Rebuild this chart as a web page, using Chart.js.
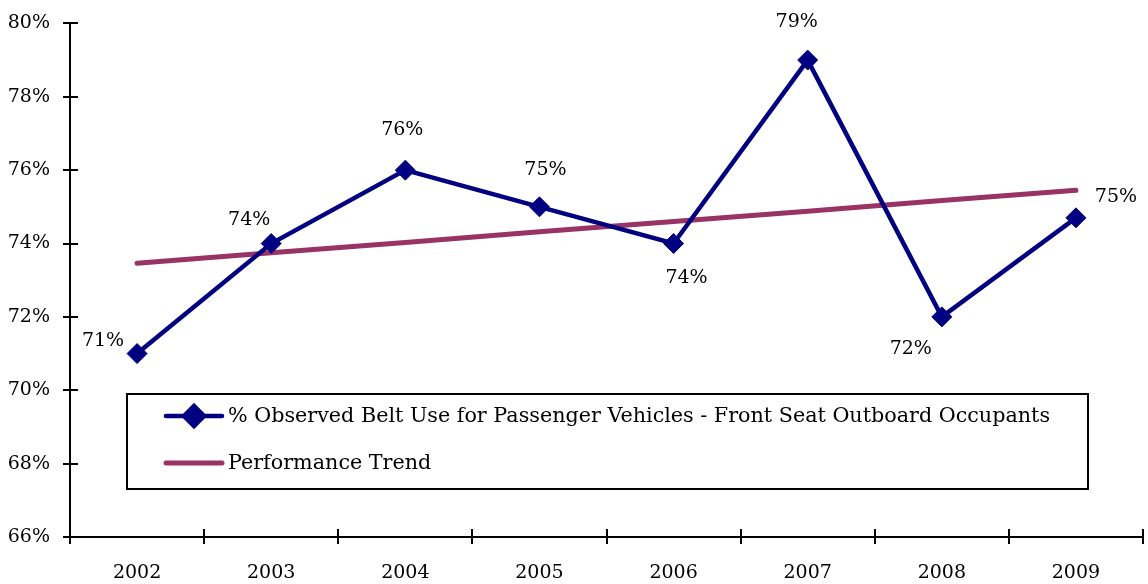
<!DOCTYPE html>
<html>
<head>
<meta charset="utf-8">
<script src="https://cdn.jsdelivr.net/npm/chart.js@4.4.0/dist/chart.umd.min.js"></script>
<style>
  html, body { margin: 0; padding: 0; background: #fff; }
  #wrap { width: 1148px; height: 584px; }
</style>
</head>
<body>
<div id="wrap"><canvas id="c" width="1148" height="584"></canvas></div>
<script>
const years = ['2002', '2003', '2004', '2005', '2006', '2007', '2008', '2009'];
const beltUse = [71, 74, 76, 75, 74, 79, 72, 74.7];
const beltLabels = ['71%', '74%', '76%', '75%', '74%', '79%', '72%', '75%'];
const trend = [73.46, 73.75, 74.03, 74.32, 74.6, 74.88, 75.17, 75.45];
const yTicks = [66, 68, 70, 72, 74, 76, 78, 80];

const FONT = '"DejaVu Serif", "Liberation Serif", serif';
const FSIZE = 19;
const LEGEND_FSIZE = 20.7;
const NAVY = '#000080', PLUM = '#993366';

// where each value label sits relative to its point (dx, dy in px)
const labelOffsets = [[-34, -13], [-22, -23], [-3, -40], [6, -37], [13, 35], [-11, -38], [-31, 32], [40, -21]];

// axes with ticks crossing the axis line, like the original
const axesPlugin = {
  id: 'axes',
  afterDraw(chart) {
    const ctx = chart.ctx, a = chart.chartArea;
    const xs = chart.scales.x, ys = chart.scales.y;
    ctx.save();
    ctx.strokeStyle = '#000';
    ctx.lineWidth = 2;
    ctx.beginPath();
    ctx.moveTo(a.left, a.top); ctx.lineTo(a.left, a.bottom);
    ctx.moveTo(a.left, a.bottom); ctx.lineTo(a.right, a.bottom);
    yTicks.forEach(v => {
      const y = Math.round(ys.getPixelForValue(v));
      ctx.moveTo(a.left - 7, y); ctx.lineTo(a.left + 8, y);
    });
    const half = (xs.getPixelForValue(1) - xs.getPixelForValue(0)) / 2;
    for (let i = 0; i <= years.length; i++) {
      const x = Math.round(xs.getPixelForValue(i) - half);
      ctx.moveTo(x, a.bottom - 8); ctx.lineTo(x, a.bottom + 7);
    }
    ctx.stroke();
    ctx.restore();
  }
};

const valueLabels = {
  id: 'valueLabels',
  afterDatasetsDraw(chart) {
    const ctx = chart.ctx;
    const meta = chart.getDatasetMeta(0);
    ctx.save();
    ctx.font = FSIZE + 'px ' + FONT;
    ctx.fillStyle = '#000';
    ctx.textAlign = 'center';
    ctx.textBaseline = 'middle';
    meta.data.forEach((pt, i) => {
      const o = labelOffsets[i];
      ctx.fillText(beltLabels[i], pt.x + o[0], pt.y + o[1]);
    });
    ctx.restore();
  }
};

// boxed legend sitting inside the plot
const boxLegend = {
  id: 'boxLegend',
  afterDraw(chart) {
    const ctx = chart.ctx;
    const ds = chart.data.datasets;
    const box = { l: 127, t: 394, r: 1088, b: 489 };
    ctx.save();
    ctx.fillStyle = '#fff';
    ctx.fillRect(box.l, box.t, box.r - box.l, box.b - box.t);
    ctx.strokeStyle = '#000';
    ctx.lineWidth = 2;
    ctx.strokeRect(box.l, box.t, box.r - box.l, box.b - box.t);
    ctx.font = LEGEND_FSIZE + 'px ' + FONT;
    ctx.textBaseline = 'middle';
    ctx.fillStyle = '#000';
    const rows = [416, 463];
    ds.forEach((d, i) => {
      const y = rows[i];
      ctx.strokeStyle = d.borderColor;
      ctx.lineWidth = d.borderWidth;
      ctx.lineCap = 'round';
      ctx.beginPath(); ctx.moveTo(166, y); ctx.lineTo(222, y); ctx.stroke();
      if (d.pointRadius) {
        Chart.helpers.drawPoint(ctx, { pointStyle: 'rectRot', radius: 10, borderWidth: 1 }, 194, y);
        ctx.fillStyle = d.backgroundColor; ctx.fill();
        ctx.fillStyle = '#000';
      }
      ctx.fillText(d.label, 228, y + 1);
    });
    ctx.restore();
  }
};

new Chart(document.getElementById('c'), {
  type: 'line',
  data: {
    labels: years,
    datasets: [
      { label: '% Observed Belt Use for Passenger Vehicles - Front Seat Outboard Occupants', data: beltUse,
        borderColor: NAVY, backgroundColor: NAVY, borderWidth: 4.5, pointStyle: 'rectRot', pointRadius: 10,
        pointBorderWidth: 1, tension: 0, order: 1, clip: false },
      { label: 'Performance Trend', data: trend,
        borderColor: PLUM, backgroundColor: PLUM, borderWidth: 5, pointRadius: 0, tension: 0,
        borderCapStyle: 'round', order: 2 },
    ]
  },
  options: {
    responsive: false, animation: false,
    layout: { autoPadding: false, padding: { top: 16, right: 5, left: 0, bottom: 0 } },
    plugins: { legend: { display: false }, tooltip: { enabled: false } },
    scales: {
      x: {
        offset: true,
        grid: { display: false }, border: { display: false },
        ticks: { color: '#000', font: { family: FONT, size: FSIZE }, padding: 17, maxRotation: 0 },
        afterFit(s) { s.height = 47; }
      },
      y: {
        min: 66, max: 80,
        afterBuildTicks(s) { s.ticks = yTicks.map(v => ({ value: v })); },
        grid: { display: false }, border: { display: false },
        ticks: { color: '#000', font: { family: FONT, size: FSIZE }, padding: 12, callback: v => v + '%' },
        afterFit(s) { s.width = 70; }
      }
    }
  },
  plugins: [axesPlugin, valueLabels, boxLegend]
});
</script>
</body>
</html>
